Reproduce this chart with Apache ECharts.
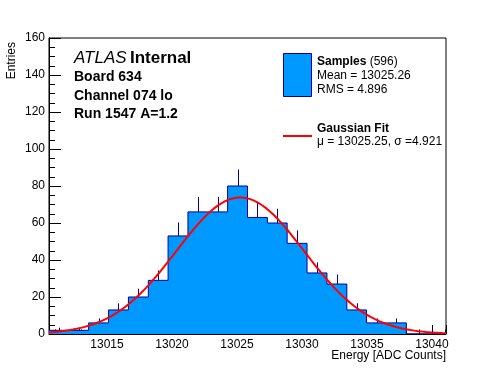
<!DOCTYPE html>
<html><head><meta charset="utf-8">
<script src="https://cdn.jsdelivr.net/npm/echarts@6/dist/echarts.min.js"></script>
<style>html,body{margin:0;padding:0;background:#fff}#c{width:496px;height:372px}</style>
</head><body><div id="c"></div>
<script>
// ---- data ----
const binEdges = [13010.54, 13012.07, 13013.59, 13015.12, 13016.65, 13018.18, 13019.70,
  13021.23, 13022.76, 13024.28, 13025.81, 13027.34, 13028.86, 13030.39, 13031.92,
  13033.45, 13034.97, 13036.50, 13038.03, 13039.55, 13041.08];
const binCounts = [2, 2, 6, 13, 20, 29, 53, 66, 66, 80, 63, 60, 49, 33, 27, 13, 6, 6, 0, 0];
const binErrors = [1.4, 1.4, 2.4, 3.6, 4.5, 5.4, 7.3, 8.1, 8.1, 8.9, 7.9, 7.7, 7.0, 5.7, 5.2, 3.6, 2.4, 2.4, 0, 0];
const xTickLabels = [13015, 13020, 13025, 13030, 13035, 13040];
const yTickLabels = [0, 20, 40, 60, 80, 100, 120, 140, 160];
// Gaussian fit parameters (from legend / peak height)
const fitMean = 13025.25;
const fitSigma = 4.921;
const fitAmplitude = 73.8;
const infoLines = ['Board 634', 'Channel 074 lo', 'Run 1547 A=1.2'];

// ---- layout ----
const FONT = "'Liberation Sans', Arial, Helvetica, sans-serif";
const G = { left: 49, top: 38, width: 397, height: 296 };
const xMin = binEdges[0], xMax = binEdges[binEdges.length - 1];
const yMin = yTickLabels[0], yMax = yTickLabels[yTickLabels.length - 1];
const pxPerUnit = G.width / (xMax - xMin);
const minorMin = Math.ceil(xMin), minorMax = Math.floor(xMax);

// histogram step outline
const histData = binCounts.map((c, i) => [binEdges[i], c]);
histData.push([binEdges[binEdges.length - 1], binCounts[binCounts.length - 1]]);
// error bars (upper halves)
const errData = [];
binCounts.forEach((c, i) => {
  if (c > 0) errData.push([(binEdges[i] + binEdges[i + 1]) / 2, c, c + binErrors[i]]);
});
// fit curve
const fitData = [];
const nFit = 200;
for (let k = 0; k <= nFit; k++) {
  const x = xMin + (xMax - xMin) * k / nFit;
  fitData.push([x, fitAmplitude * Math.exp(-0.5 * Math.pow((x - fitMean) / fitSigma, 2))]);
}

const chart = echarts.init(document.getElementById('c'), null, { renderer: 'canvas' });
chart.setOption({
  animation: false,
  backgroundColor: '#fff',
  textStyle: { fontFamily: FONT },
  grid: [
    { left: G.left, top: G.top, width: G.width, height: G.height, show: true,
      borderColor: '#000', borderWidth: 1, backgroundColor: 'transparent' },
    { left: G.left + (minorMin - xMin) * pxPerUnit, top: G.top,
      width: (minorMax - minorMin) * pxPerUnit, height: G.height, show: false }
  ],
  xAxis: [
    { type: 'value', gridIndex: 0, min: xMin, max: xMax, splitLine: { show: false },
      axisLine: { show: true, onZero: false, lineStyle: { color: '#000', width: 1 } },
      axisTick: { show: true, inside: true, length: 9, lineStyle: { color: '#000' } },
      minorTick: { show: false },
      axisLabel: { color: '#000', fontSize: 12, fontFamily: FONT, margin: 5,
        formatter: v => (xTickLabels.some(t => Math.abs(t - v) < 1e-6) ? String(Math.round(v)) : '') } },
    { type: 'value', gridIndex: 1, min: minorMin, max: minorMax, interval: 1,
      splitLine: { show: false }, axisLine: { show: false },
      axisTick: { show: true, inside: true, length: 4.5, lineStyle: { color: '#000' } },
      axisLabel: { show: false } }
  ],
  yAxis: [
    { type: 'value', gridIndex: 0, min: yMin, max: yMax, interval: 20, splitLine: { show: false },
      axisLine: { show: true, onZero: false, lineStyle: { color: '#000', width: 1 } },
      axisTick: { show: true, inside: true, length: 12, lineStyle: { color: '#000' } },
      minorTick: { show: true, splitNumber: 4, length: 6, lineStyle: { color: '#000' } },
      axisLabel: { color: '#000', fontSize: 12, fontFamily: FONT, margin: 4 } },
    { type: 'value', gridIndex: 1, min: yMin, max: yMax, show: false }
  ],
  series: [
    { type: 'line', xAxisIndex: 0, yAxisIndex: 0, data: histData, step: 'end',
      symbol: 'none', lineStyle: { color: '#000099', width: 1 },
      areaStyle: { color: '#0099ff', opacity: 1 }, z: 2, silent: true },
    { type: 'custom', xAxisIndex: 0, yAxisIndex: 0, data: errData, z: 3, silent: true,
      renderItem: (params, api) => {
        const p0 = api.coord([api.value(0), api.value(1)]);
        const p1 = api.coord([api.value(0), api.value(2)]);
        const x = Math.round(p0[0]) + 0.5;
        return { type: 'line', shape: { x1: x, y1: p0[1], x2: x, y2: p1[1] },
          style: { stroke: '#000099', lineWidth: 1 } };
      } },
    { type: 'line', xAxisIndex: 0, yAxisIndex: 0, data: fitData, symbol: 'none',
      lineStyle: { color: '#ff0000', width: 2 }, z: 4, silent: true, clip: true }
  ],
  graphic: [
    { type: 'text', x: 12, y: 42, rotation: Math.PI / 2,
      style: { text: 'Entries', fill: '#000', font: '12px ' + FONT, align: 'right', verticalAlign: 'middle' } },
    { type: 'text', x: 446, y: 356,
      style: { text: 'Energy [ADC Counts]', fill: '#000', font: '12px ' + FONT, align: 'right', verticalAlign: 'middle' } },
    { type: 'text', x: 74, y: 58.5,
      style: { text: '{a|ATLAS} {b|Internal}', verticalAlign: 'middle', align: 'left',
        rich: { a: { fontStyle: 'italic', fontSize: 17, fontFamily: FONT, fill: '#000', color: '#000' },
                b: { fontWeight: 'bold', fontSize: 17, fontFamily: FONT, fill: '#000', color: '#000' } } } },
    ...infoLines.map((t, i) => ({ type: 'text', x: 74, y: 77.5 + i * 18.5,
      style: { text: t, fill: '#000', font: 'bold 14px ' + FONT, align: 'left', verticalAlign: 'middle' } })),
    { type: 'rect', shape: { x: 283.5, y: 53.5, width: 28, height: 43 },
      style: { fill: '#0099ff', stroke: '#000099', lineWidth: 1 } },
    { type: 'text', x: 317, y: 62,
      style: { text: '{b|Samples} (596)', fill: '#000', font: '12px ' + FONT, align: 'left', verticalAlign: 'middle',
        rich: { b: { fontWeight: 'bold', fontSize: 12, fontFamily: FONT, fill: '#000', color: '#000' } } } },
    { type: 'text', x: 317, y: 76,
      style: { text: 'Mean = 13025.26', fill: '#000', font: '12px ' + FONT, align: 'left', verticalAlign: 'middle' } },
    { type: 'text', x: 317, y: 90,
      style: { text: 'RMS = 4.896', fill: '#000', font: '12px ' + FONT, align: 'left', verticalAlign: 'middle' } },
    { type: 'line', shape: { x1: 283, y1: 136, x2: 312, y2: 136 },
      style: { stroke: '#ff0000', lineWidth: 2 } },
    { type: 'text', x: 317, y: 129,
      style: { text: 'Gaussian Fit', fill: '#000', font: 'bold 12px ' + FONT, align: 'left', verticalAlign: 'middle' } },
    { type: 'text', x: 317, y: 142,
      style: { text: 'μ = 13025.25, σ =4.921', fill: '#000', font: '12px ' + FONT, align: 'left', verticalAlign: 'middle' } }
  ]
});
</script></body></html>
